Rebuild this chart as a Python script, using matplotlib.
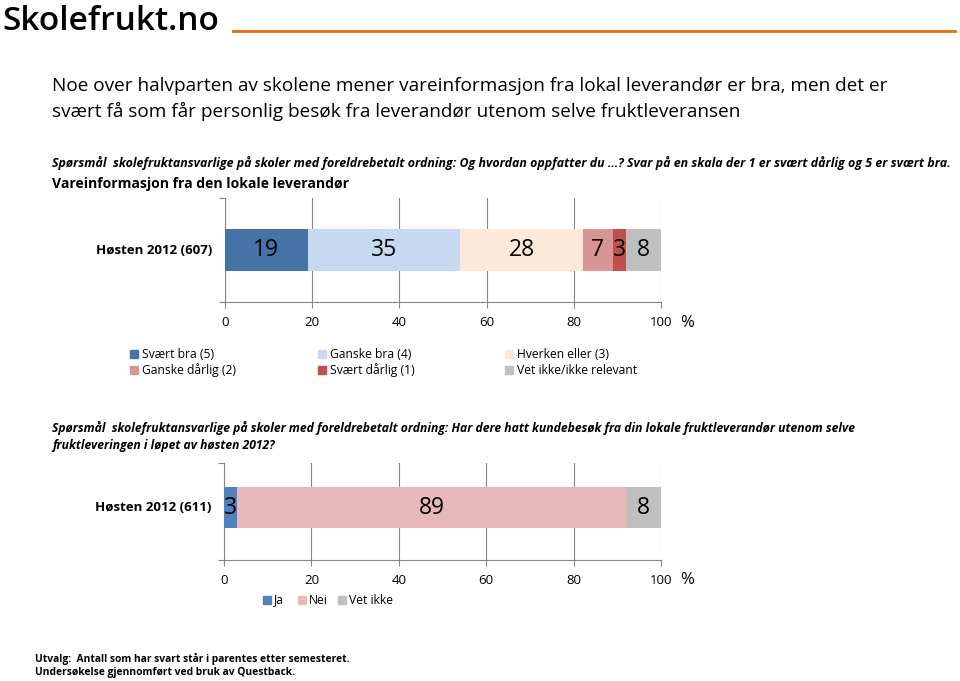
import matplotlib.pyplot as plt
import numpy as np

plt.rcParams['font.family'] = ['Open Sans', 'DejaVu Sans']

# data
labels1 = ['Svært bra (5)', 'Ganske bra (4)', 'Hverken eller (3)',
           'Ganske dårlig (2)', 'Svært dårlig (1)', 'Vet ikke/ikke relevant']
values1 = [19, 35, 28, 7, 3, 8]
colors1 = ['#4572a7', '#c6d9f1', '#fde9d9', '#d99594', '#c0504d', '#bfbfbf']
row1 = 'Høsten 2012 (607)'

labels2 = ['Ja', 'Nei', 'Vet ikke']
values2 = [3, 89, 8]
colors2 = ['#4f81bd', '#e6b9b8', '#bfbfbf']
row2 = 'Høsten 2012 (611)'

ticks = [0, 20, 40, 60, 80, 100]

W, H = 960, 681
fig = plt.figure(figsize=(W / 100, H / 100), dpi=100)


def px(x, y):
    return x / W, 1 - y / H


def axbox(x0, y0, x1, y1):
    return [x0 / W, 1 - y1 / H, (x1 - x0) / W, (y1 - y0) / H]


def stacked(ax, values, colors, rowlabel, ypos, bh):
    left = 0
    for v, c in zip(values, colors):
        ax.barh(ypos, v, left=left, height=bh, color=c, zorder=3)
        ax.text(left + v / 2, ypos, str(v), ha='center', va='center',
                fontsize=16.5, color='black', zorder=4)
        left += v
    ax.set_xlim(0, 100)
    ax.set_ylim(-0.5, 0.5)
    ax.set_xticks(ticks)
    ax.set_yticks([-0.5, 0.5])
    ax.set_yticklabels([])
    ax.tick_params(axis='x', labelsize=9.5, length=4, color='#868686', pad=6)
    ax.tick_params(axis='y', length=4, color='#868686')
    ax.grid(axis='x', color='#868686', linewidth=0.8, zorder=0)
    for s in ['top', 'right']:
        ax.spines[s].set_visible(False)
    for s in ['left', 'bottom']:
        ax.spines[s].set_color('#868686')
    ax.text(-3, ypos, rowlabel, ha='right', va='center', fontsize=9.5,
            fontweight='bold', transform=ax.transData)


# logo
fig.text(*px(2, 22), 'Skolefrukt.no', fontsize=24, fontweight='semibold',
         va='center', ha='left')
fig.add_artist(plt.Line2D([233 / W, 955 / W], [1 - 31 / H] * 2,
                          color='#e46c0a', linewidth=2))

# title
fig.text(*px(52, 86), 'Noe over halvparten av skolene mener vareinformasjon fra lokal leverandør er bra, men det er',
         fontsize=13.7, va='center')
fig.text(*px(52, 111), 'svært få som får personlig besøk fra leverandør utenom selve fruktleveransen',
         fontsize=13.7, va='center')

fig.text(*px(52, 163), 'Spørsmål  skolefruktansvarlige på skoler med foreldrebetalt ordning: Og hvordan oppfatter du …? Svar på en skala der 1 er svært dårlig og 5 er svært bra.',
         fontsize=8.9, fontstyle='italic', fontweight='bold', va='center')
fig.text(*px(52, 184), 'Vareinformasjon fra den lokale leverandør', fontsize=10.1,
         fontweight='bold', va='center')

ax1 = fig.add_axes(axbox(225, 198, 661, 302))
stacked(ax1, values1, colors1, row1, 0, 0.395)
fig.text(*px(680, 323), '%', fontsize=12, va='center')

# legend 1
legx = [130, 318, 505]
legy = [354, 370]
for i, (lab, c) in enumerate(zip(labels1, colors1)):
    x, y = legx[i % 3], legy[i // 3]
    fig.patches.append(plt.Rectangle(px(x, y + 4), 8 / W, 8 / H, color=c,
                                     transform=fig.transFigure))
    fig.text(*px(x + 12, y), lab, fontsize=8.7, va='center')

fig.text(*px(52, 428), 'Spørsmål  skolefruktansvarlige på skoler med foreldrebetalt ordning: Har dere hatt kundebesøk fra din lokale fruktleverandør utenom selve',
         fontsize=8.75, fontstyle='italic', fontweight='bold', va='center')
fig.text(*px(52, 445), 'fruktleveringen i løpet av høsten 2012?',
         fontsize=8.75, fontstyle='italic', fontweight='bold', va='center')

ax2 = fig.add_axes(axbox(224, 463, 661, 560))
stacked(ax2, values2, colors2, row2, 0.04, 0.42)
fig.text(*px(680, 580), '%', fontsize=12, va='center')

for x, lab, c in zip([263, 298, 338], labels2, colors2):
    fig.patches.append(plt.Rectangle(px(x, 604), 8 / W, 8 / H, color=c,
                                     transform=fig.transFigure))
    fig.text(*px(x + 11, 600), lab, fontsize=8.7, va='center')

fig.text(*px(35, 659), 'Utvalg:  Antall som har svart står i parentes etter semesteret.',
         fontsize=7.35, fontweight='bold', va='center')
fig.text(*px(35, 673), 'Undersøkelse gjennomført ved bruk av Questback.',
         fontsize=7.35, fontweight='bold', va='center')

fig.savefig('out.png', dpi=100)
